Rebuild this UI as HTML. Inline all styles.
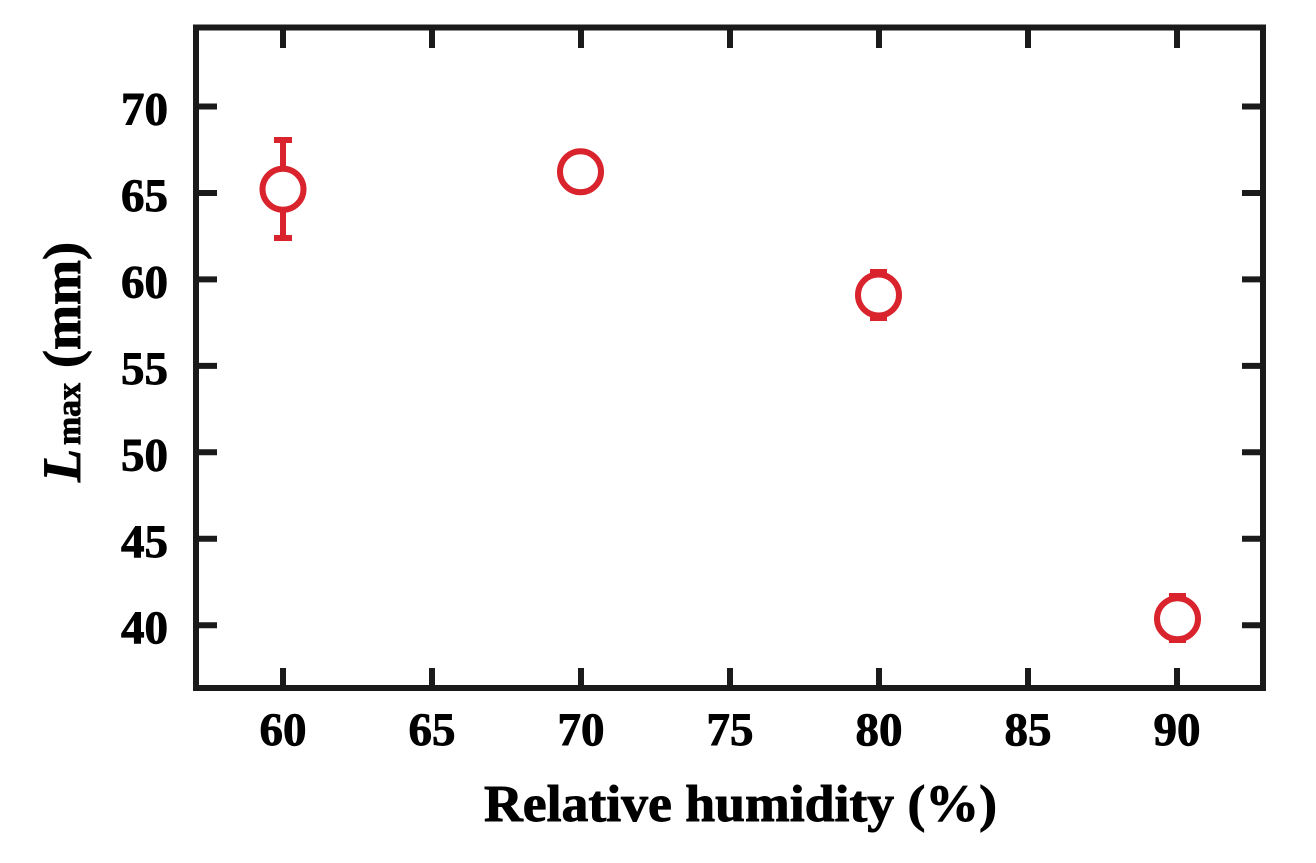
<!DOCTYPE html>
<html>
<head>
<meta charset="utf-8">
<style>
  html,body{margin:0;padding:0;background:#fff;}
  svg{display:block;}
  text{font-family:"Liberation Serif","Times New Roman",serif;font-weight:bold;fill:#000;stroke:#000;stroke-width:0.9px;}
</style>
</head>
<body>
<svg width="1316" height="863" viewBox="0 0 1316 863" xmlns="http://www.w3.org/2000/svg">
  <rect width="1316" height="863" fill="#fff"/>

  <!-- frame -->
  <rect x="196" y="27.5" width="1067" height="660.5" fill="none" stroke="#1a1a1a" stroke-width="6"/>

  <!-- ticks -->
  <g stroke="#1a1a1a" stroke-width="6">
    <line x1="283" y1="688" x2="283" y2="668"/>
    <line x1="432" y1="688" x2="432" y2="668"/>
    <line x1="581" y1="688" x2="581" y2="668"/>
    <line x1="730" y1="688" x2="730" y2="668"/>
    <line x1="879" y1="688" x2="879" y2="668"/>
    <line x1="1028" y1="688" x2="1028" y2="668"/>
    <line x1="1177" y1="688" x2="1177" y2="668"/>

    <line x1="283" y1="27.5" x2="283" y2="48"/>
    <line x1="432" y1="27.5" x2="432" y2="48"/>
    <line x1="581" y1="27.5" x2="581" y2="48"/>
    <line x1="730" y1="27.5" x2="730" y2="48"/>
    <line x1="879" y1="27.5" x2="879" y2="48"/>
    <line x1="1028" y1="27.5" x2="1028" y2="48"/>
    <line x1="1177" y1="27.5" x2="1177" y2="48"/>

    <line x1="196" y1="106.5" x2="217" y2="106.5"/>
    <line x1="196" y1="193" x2="217" y2="193"/>
    <line x1="196" y1="279.4" x2="217" y2="279.4"/>
    <line x1="196" y1="365.9" x2="217" y2="365.9"/>
    <line x1="196" y1="452.3" x2="217" y2="452.3"/>
    <line x1="196" y1="538.8" x2="217" y2="538.8"/>
    <line x1="196" y1="625.2" x2="217" y2="625.2"/>

    <line x1="1263" y1="106.5" x2="1242" y2="106.5"/>
    <line x1="1263" y1="193" x2="1242" y2="193"/>
    <line x1="1263" y1="279.4" x2="1242" y2="279.4"/>
    <line x1="1263" y1="365.9" x2="1242" y2="365.9"/>
    <line x1="1263" y1="452.3" x2="1242" y2="452.3"/>
    <line x1="1263" y1="538.8" x2="1242" y2="538.8"/>
    <line x1="1263" y1="625.2" x2="1242" y2="625.2"/>
  </g>

  <!-- y tick labels -->
  <g font-size="47" text-anchor="end">
    <text x="168" y="124.5">70</text>
    <text x="168" y="211">65</text>
    <text x="168" y="297.4">60</text>
    <text x="168" y="383.9">55</text>
    <text x="168" y="470.3">50</text>
    <text x="168" y="556.8">45</text>
    <text x="168" y="643.2">40</text>
  </g>

  <!-- x tick labels -->
  <g font-size="47" text-anchor="middle">
    <text x="283" y="745">60</text>
    <text x="432" y="745">65</text>
    <text x="581" y="745">70</text>
    <text x="730" y="745">75</text>
    <text x="879" y="745">80</text>
    <text x="1028" y="745">85</text>
    <text x="1177" y="745">90</text>
  </g>

  <!-- x axis title -->
  <text x="484" y="821" font-size="52" textLength="513" lengthAdjust="spacingAndGlyphs">Relative humidity (%)</text>

  <!-- y axis title -->
  <g transform="rotate(-90)">
    <text x="-482" y="80" font-size="54" font-style="italic">L</text>
    <text x="-445" y="80" font-size="34" textLength="62" lengthAdjust="spacingAndGlyphs">max</text>
    <text x="-368" y="80" font-size="53" textLength="126" lengthAdjust="spacingAndGlyphs">(mm)</text>
  </g>

  <!-- data -->
  <g stroke="#d9232d" stroke-width="6" fill="none">
    <line x1="283" y1="140" x2="283" y2="238"/>
    <line x1="274" y1="140" x2="292" y2="140"/>
    <line x1="274" y1="238" x2="292" y2="238"/>
    <circle cx="283" cy="189.2" r="20.5" fill="#fff"/>

    <circle cx="580.5" cy="171.8" r="20.5" fill="#fff"/>

    <line x1="878.5" y1="272" x2="878.5" y2="318"/>
    <line x1="870" y1="272" x2="887" y2="272"/>
    <line x1="870" y1="318" x2="887" y2="318"/>
    <circle cx="878.5" cy="295" r="20.5" fill="#fff"/>

    <line x1="1177.5" y1="596" x2="1177.5" y2="640"/>
    <line x1="1169" y1="596" x2="1186" y2="596"/>
    <line x1="1169" y1="640" x2="1186" y2="640"/>
    <circle cx="1177.5" cy="618.7" r="20.5" fill="#fff"/>
  </g>
</svg>
</body>
</html>
